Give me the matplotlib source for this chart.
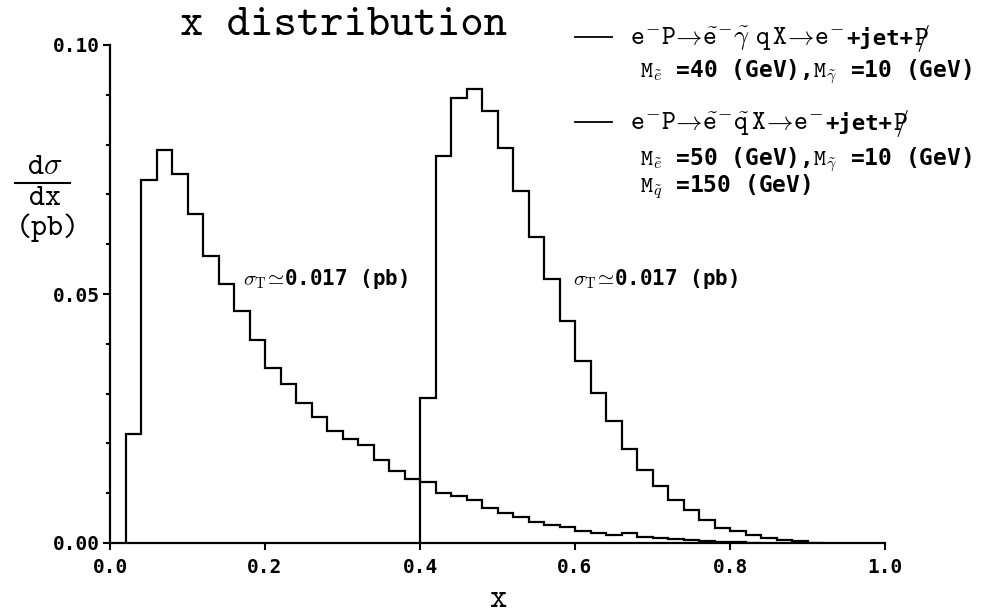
import matplotlib
matplotlib.use("Agg")
import matplotlib.pyplot as plt
from matplotlib.lines import Line2D
import numpy as np

plt.rcParams["mathtext.fontset"] = "cm"

# bin edges are 0.02 wide
left_edges = np.round(np.arange(0.02, 0.8401, 0.02), 2)
left_vals = [0.0218, 0.0729, 0.0790, 0.0741, 0.0661, 0.0577, 0.0520, 0.0466,
             0.0407, 0.0352, 0.0319, 0.0282, 0.0254, 0.0225, 0.0208, 0.0196,
             0.0166, 0.0144, 0.0129, 0.0123, 0.0101, 0.0094, 0.0086, 0.0070,
             0.0060, 0.0052, 0.0043, 0.0037, 0.0032, 0.0025, 0.0021, 0.0017,
             0.0020, 0.0013, 0.0011, 0.0008, 0.0006, 0.0004, 0.0003, 0.0002,
             0.0001]

right_edges = np.round(np.arange(0.40, 0.9201, 0.02), 2)
right_vals = [0.0292, 0.0778, 0.0893, 0.0911, 0.0868, 0.0793, 0.0707, 0.0614,
              0.0531, 0.0446, 0.0365, 0.0302, 0.0245, 0.0189, 0.0147, 0.0115,
              0.0087, 0.0067, 0.0047, 0.0031, 0.0024, 0.0017, 0.0011, 0.0007,
              0.0004, 0.0001]

x_ticks = [0.0, 0.2, 0.4, 0.6, 0.8, 1.0]
x_ticklabels = ["0.0", "0.2", "0.4", "0.6", "0.8", "1.0"]
y_ticks = [0.00, 0.05, 0.10]
y_ticklabels = ["0.00", "0.05", "0.10"]

title = "x distribution"
ptmiss = r"$\mathtt{P}\!\!\!/$"
jet = "+jet+"
legend_1 = (r"$\mathtt{e}^{-}\mathtt{P}\!\rightarrow\!\tilde{\mathtt{e}}^{-}"
            r"\tilde{\gamma}\ \mathtt{q}\,\mathtt{X}\!\rightarrow\!\mathtt{e}^{-}$")
legend_1b = r"$\mathtt{M}_{\tilde{e}}$ =40 (GeV),$\mathtt{M}_{\tilde{\gamma}}$ =10 (GeV)"
legend_2 = (r"$\mathtt{e}^{-}\mathtt{P}\!\rightarrow\!\tilde{\mathtt{e}}^{-}"
            r"\tilde{\mathtt{q}}\,\mathtt{X}\!\rightarrow\!\mathtt{e}^{-}$")
legend_2b = r"$\mathtt{M}_{\tilde{e}}$ =50 (GeV),$\mathtt{M}_{\tilde{\gamma}}$ =10 (GeV)"
legend_2c = r"$\mathtt{M}_{\tilde{q}}$ =150 (GeV)"
sigma_text = r"$\sigma_{\rm T}\!\simeq\!$0.017 (pb)"

W, H = 991, 613
tt = "cmtt10"
bold_mono = ["DejaVu Sans Mono", "DejaVu Sans"]


def fx(px):
    return px / W


def fy(py):
    return 1 - py / H


fig = plt.figure(figsize=(W / 100, H / 100), dpi=100)
ax = fig.add_axes([fx(110), fy(543), 775 / W, (543 - 45) / H])

ax.stairs(left_vals, left_edges, baseline=0, color="black", lw=1.6)
ax.stairs(right_vals, right_edges, baseline=0, color="black", lw=1.6)

ax.set_xlim(0, 1.0)
ax.set_ylim(0, 0.10)
ax.spines["top"].set_visible(False)
ax.spines["right"].set_visible(False)
ax.spines["left"].set_linewidth(1.6)
ax.spines["bottom"].set_linewidth(1.6)

ax.set_xticks(x_ticks)
ax.set_xticklabels(x_ticklabels)
ax.set_yticks(y_ticks)
ax.set_yticklabels(y_ticklabels)
ax.set_yticks(np.round(np.arange(0, 0.1001, 0.01), 2), minor=True)
ax.tick_params(axis="both", which="major", direction="out", length=5, width=1.5,
               labelsize=14, pad=6)
ax.tick_params(axis="y", which="major", pad=2)
ax.tick_params(axis="y", which="minor", direction="out", length=3, width=1.5)
for lab in ax.get_xticklabels() + ax.get_yticklabels():
    lab.set_fontfamily(bold_mono)
    lab.set_fontweight("bold")

ax.set_xlabel("x", fontfamily=tt, fontsize=24, labelpad=6)

# title sits left of centre in the original
fig.text(fx(180), fy(35), title, fontfamily=tt, fontsize=32, ha="left",
         va="baseline")

# y label as a fraction
fig.text(fx(45), fy(168), r"d$\sigma$", fontfamily=tt, fontsize=22,
         ha="center", va="center")
fig.add_artist(Line2D([fx(15), fx(70)], [fy(183), fy(183)],
                      transform=fig.transFigure, color="black", lw=1.5))
fig.text(fx(45), fy(199), "dx", fontfamily=tt, fontsize=22, ha="center",
         va="center")
fig.text(fx(48), fy(228), "(pb)", fontfamily=tt, fontsize=22, ha="center",
         va="center")

# annotations
ax.text(0.172, 0.053, sigma_text, fontfamily=bold_mono, fontweight="bold",
        fontsize=15, ha="left", va="center")
ax.text(0.598, 0.053, sigma_text, fontfamily=bold_mono, fontweight="bold",
        fontsize=15, ha="left", va="center")

# hand-made legend
renderer = fig.canvas.get_renderer()


def legend_row(py, formula):
    t = fig.text(fx(630), fy(py), formula, fontsize=19, va="baseline")
    x1 = t.get_window_extent(renderer).x1
    t2 = fig.text(x1 / W + 0.002, fy(py), jet, fontfamily=bold_mono,
                  fontweight="bold", fontsize=16, va="baseline")
    x2 = t2.get_window_extent(renderer).x1
    fig.text(x2 / W + 0.001, fy(py), ptmiss, fontsize=19, va="baseline")


for ly in (37, 122):
    fig.add_artist(Line2D([fx(575), fx(612)], [fy(ly), fy(ly)],
                          transform=fig.transFigure, color="black", lw=1.3))
legend_row(45, legend_1)
legend_row(130, legend_2)
fig.text(fx(640), fy(72), legend_1b, fontfamily=bold_mono, fontweight="bold",
         fontsize=16.5, va="center")
fig.text(fx(640), fy(160), legend_2b, fontfamily=bold_mono, fontweight="bold",
         fontsize=16.5, va="center")
fig.text(fx(640), fy(187), legend_2c, fontfamily=bold_mono, fontweight="bold",
         fontsize=16.5, va="center")

fig.savefig("out.png", dpi=100)
